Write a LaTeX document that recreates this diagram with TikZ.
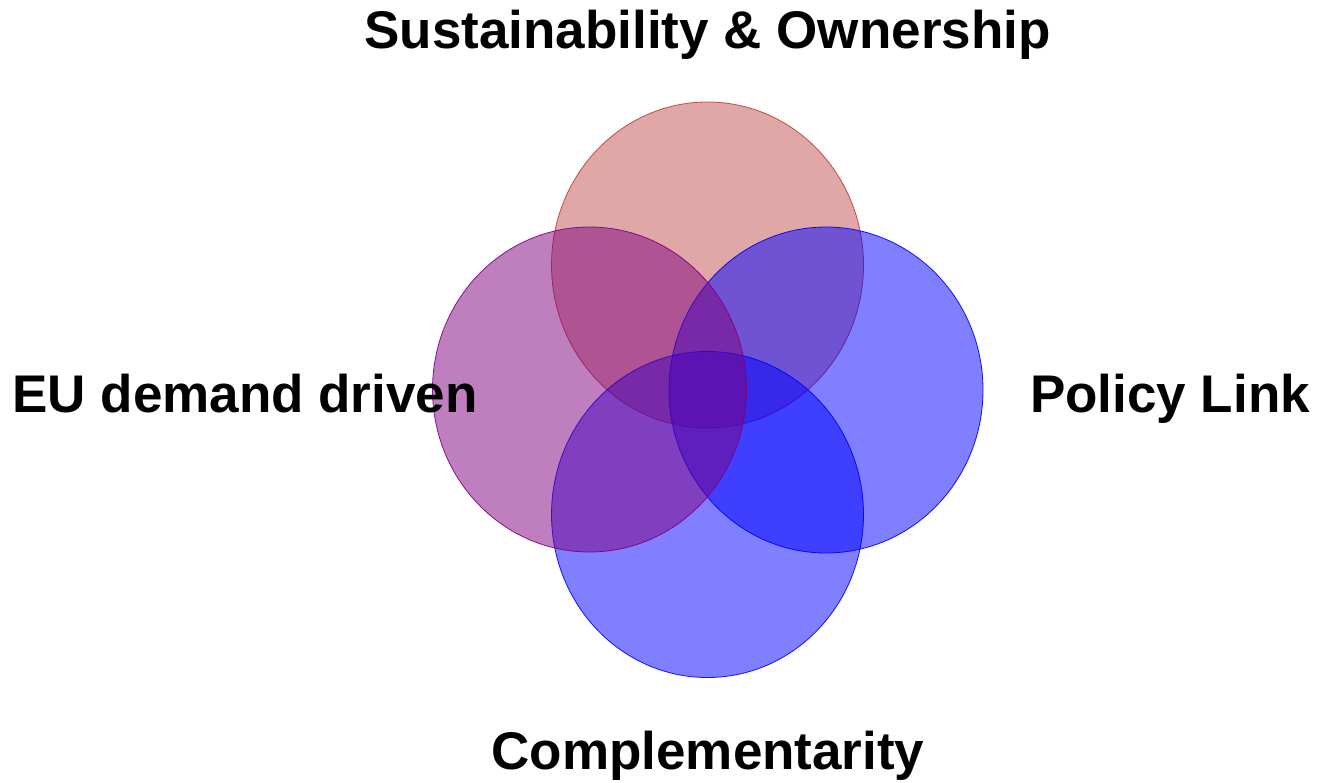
\documentclass[tikz,border=0pt]{standalone}
\usepackage{fontspec}
\setmainfont{Liberation Sans}
\definecolor{redc}{RGB}{192,80,77}
\definecolor{redline}{RGB}{192,60,60}
\definecolor{purc}{RGB}{128,0,128}
\definecolor{bluc}{RGB}{0,0,255}
\begin{document}
\begin{tikzpicture}[x=1pt,y=-1pt,
  circ/.style={fill opacity=0.5, draw opacity=0.9, line width=0.8pt},
  lbl/.style={font=\fontsize{53}{60}\selectfont\bfseries, inner sep=0pt, anchor=base}]
\useasboundingbox[fill=white] (0,0) rectangle (1319,783);
\path[circ, fill=redc, draw=redline] (707.5,265) ellipse [x radius=156, y radius=163];
\path[circ, fill=bluc, draw=bluc] (826,390) ellipse [x radius=157, y radius=163];
\path[circ, fill=bluc, draw=bluc] (707.5,514.5) ellipse [x radius=156, y radius=163];
\path[circ, fill=purc, draw=purc] (589.5,389.5) ellipse [x radius=157, y radius=162.5];
\node[lbl] (top) at (707.5,49) {Sustainability \& Ownership};
\node[lbl] (left) at (245,412) {EU demand driven};
\node[lbl] (right) at (1170,412) {Policy Link};
\node[lbl] (bottom) at (708,769) {Complementarity};
\end{tikzpicture}
\end{document}
